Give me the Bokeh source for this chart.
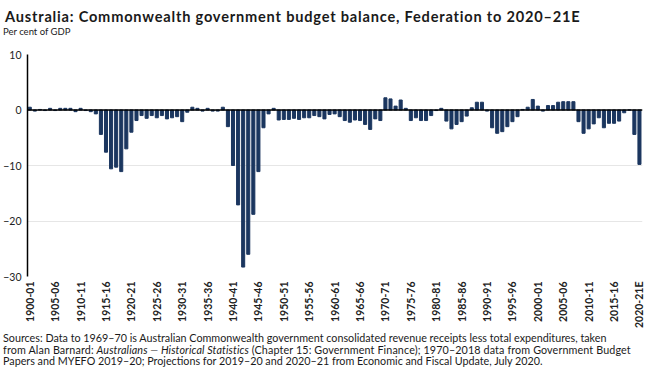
from bokeh.plotting import figure
from bokeh.models import Range1d, Span, FixedTicker, Div
from bokeh.layouts import column
from bokeh.embed import file_html
from bokeh.resources import INLINE

# ---------------- data ----------------
start_years = list(range(1900, 2021))
balance = [
    0.5, -0.2, 0.1, -0.1, 0.3, -0.1, 0.3, 0.3, 0.3, -0.3,
    0.3, -0.1, -0.3, -0.7, -4.4, -7.6, -10.6, -10.3, -11.1, -7.0,
    -4.0, -1.9, -1.0, -1.5, -1.0, -1.4, -1.0, -1.6, -1.4, -1.2,
    -2.1, -0.4, 0.5, 0.3, -0.2, 0.3, -0.2, -0.2, 0.5, -3.0,
    -10.0, -17.1, -28.3, -26.0, -18.8, -11.1, -3.2, -0.7, 0.3, -1.8,
    -1.7, -1.7, -1.5, -1.7, -1.4, -1.4, -1.0, -1.2, -1.6, -0.8,
    -0.7, -1.2, -1.9, -2.2, -1.8, -1.9, -2.6, -3.5, -1.6, -1.9,
    2.2, 2.0, 0.7, 1.8, 0.3, -1.9, -1.4, -1.9, -1.9, -1.0,
    -0.1, 0.3, -2.0, -3.4, -2.6, -2.1, -1.1, 0.4, 1.4, 1.4,
    -0.2, -3.2, -4.2, -3.9, -3.0, -2.1, -1.2, 0.1, 0.5, 1.9,
    0.7, -0.2, 0.8, 0.8, 1.4, 1.5, 1.5, 1.5, -2.1, -4.2,
    -3.4, -2.5, -1.4, -3.2, -2.4, -2.4, -2.0, -0.5, 0.0, -4.4,
    -9.8,
]
tick_every = 5
y_ticks = [10, 0, -10, -20, -30]

labels = [f"{y}-{(y + 1) % 100:02d}" for y in start_years]
labels[-1] = labels[-1] + "E"

title_text = "Australia: Commonwealth government budget balance, Federation to 2020\u201321E"
subtitle_text = "Per cent of GDP"
src1 = ("Sources: Data to 1969\u201370 is Australian Commonwealth government consolidated "
        "revenue receipts less total expenditures, taken")
src2a = "from Alan Barnard: "
src2b = "Australians \u2014 Historical Statistics"
src2c = " (Chapter 15: Government Finance); 1970\u20132018 data from Government Budget"
src3 = ("Papers and MYEFO 2019\u201320; Projections for 2019\u201320 and 2020\u201321 from "
        "Economic and Fiscal Update, July 2020.")

# ---------------- layout ----------------
W = 650
FONT = "Lato"
BAR = "#1b365f"
TXT = "#1a1a1a"

head = Div(
    text=(f'<div style="padding-top:8px;">'
          f'<div style="font-family:{FONT};font-weight:bold;font-size:14.6px;letter-spacing:0.8px;'
          f'line-height:17px;color:{TXT};white-space:nowrap;padding-left:5px;">{title_text}</div>'
          f'<div style="font-family:{FONT};font-size:9.5px;line-height:14px;'
          f'color:{TXT};white-space:nowrap;padding-left:3px;">{subtitle_text}</div></div>'),
    width=W, height=46, margin=(0, 0, 0, 0))

idx = list(range(len(balance)))

p = figure(width=W, height=284, output_backend="svg", toolbar_location=None,
           x_range=Range1d(-0.45, 120.6), y_range=Range1d(-30, 10),
           min_border_left=27, min_border_right=8,
           min_border_top=8, min_border_bottom=52, margin=(0, 0, 0, 0))
p.outline_line_color = None
p.background_fill_color = "white"
p.border_fill_color = "white"

p.vbar(x=idx, top=balance, bottom=0, width=0.6, color=BAR)

p.add_layout(Span(location=0, dimension="width", line_color="black", line_width=1.5))

p.xgrid.grid_line_color = None
p.ygrid.ticker = FixedTicker(ticks=y_ticks)
p.ygrid.grid_line_color = "#e6e6e6"
p.ygrid.grid_line_width = 1

p.yaxis.ticker = FixedTicker(ticks=y_ticks)
p.yaxis.axis_line_color = "black"
p.yaxis.axis_line_width = 1.5
p.yaxis.major_tick_line_color = None
p.yaxis.minor_tick_line_color = None
p.yaxis.major_tick_out = 0
p.yaxis.major_tick_in = 0
p.yaxis.major_label_standoff = 6
p.yaxis.axis_label_standoff = 0
p.yaxis.major_label_text_font = FONT
p.yaxis.major_label_text_font_size = "10.5px"
p.yaxis.major_label_text_color = "#222222"

xt = [i for i in idx if i % tick_every == 0]
p.xaxis.ticker = FixedTicker(ticks=xt)
p.xaxis.major_label_overrides = {i: labels[i] for i in xt}
p.xaxis.major_label_orientation = 3.14159265 / 2
p.xaxis.axis_line_color = None
p.xaxis.major_tick_line_color = None
p.xaxis.minor_tick_line_color = None
p.xaxis.major_tick_out = 0
p.xaxis.major_tick_in = 0
p.xaxis.major_label_standoff = 5
p.xaxis.major_label_text_font = FONT
p.xaxis.major_label_text_font_size = "10.5px"
p.xaxis.major_label_text_font_style = "bold"
p.xaxis.major_label_text_color = "#222222"

foot = Div(
    text=(f'<div style="font-family:{FONT};font-size:10.75px;line-height:11.5px;'
          f'color:{TXT};white-space:nowrap;padding-left:3px;padding-top:2px;">'
          f'{src1}<br><span style="letter-spacing:0.12px;">{src2a}<i>{src2b}</i>{src2c}</span>'
          f'<br>{src3}</div>'),
    width=W, height=59, margin=(0, 0, 0, 0))

layout = column(head, p, foot, spacing=0)

open("out.html", "w").write(file_html(layout, INLINE))
